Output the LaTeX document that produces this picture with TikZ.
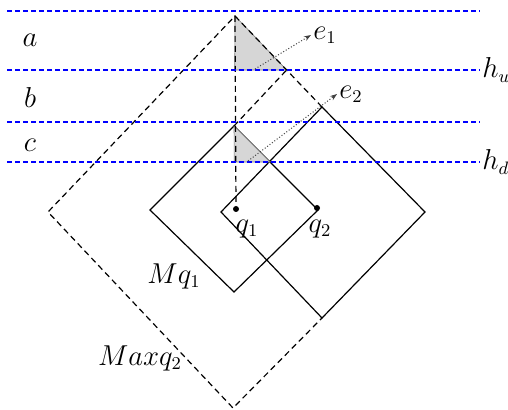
\documentclass[tikz,border=0pt]{standalone}
\usepackage{tikz}
\usetikzlibrary{arrows.meta}

\begin{document}
\begin{tikzpicture}[
  x=0.5pt, y=-0.5pt,
  bandline/.style={blue, dash pattern=on 2.5pt off 1.5pt, line width=0.6pt},
  box/.style={line width=0.6pt},
  maxbox/.style={dash pattern=on 3pt off 2pt, line width=0.6pt},
  grayarea/.style={fill=black!16, draw=gray, line width=0.3pt},
  dir/.style={densely dotted, gray!50!black, -{Stealth[length=3.5pt,width=2.5pt]}, line width=0.5pt},
  lbl/.style={font=\fontsize{13.5}{16}\selectfont, inner sep=1pt},
  qdot/.style={circle, fill, inner sep=0pt, minimum size=3pt}
]
\useasboundingbox (0,0) rectangle (508,410);

% Levels
\coordinate (l1a) at (7,11);  \coordinate (l1b) at (480,11);
\coordinate (l2a) at (7,70);  \coordinate (l2b) at (480,70);
\coordinate (l3a) at (7,122); \coordinate (l3b) at (480,122);
\coordinate (l4a) at (7,162); \coordinate (l4b) at (480,162);

% Corners
\coordinate (top) at (235,16);
\coordinate (maxL) at (48,212);
\coordinate (maxB) at (233,408);
\coordinate (q2T) at (322,107);
\coordinate (q2R) at (425,212);
\coordinate (q2B) at (322,318);
\coordinate (q2L) at (221,212);
\coordinate (m1T) at (234,126);
\coordinate (m1R) at (318,210);
\coordinate (m1B) at (234,292);
\coordinate (m1L) at (150,210);
\coordinate (hitU) at (intersection of top--q2T and l2a--l2b);
\coordinate (hitD) at (intersection of m1T--m1R and l4a--l4b);
\coordinate (footU) at (intersection of top--maxB and l2a--l2b);
\coordinate (footD) at (intersection of top--maxB and l4a--l4b);

% Shaded parts
\draw[grayarea] (top) -- (footU) -- (hitU) -- cycle;

% Squares
\draw[box] (m1T) -- (m1R) -- (m1B) -- (m1L) -- cycle;
\draw[box] (q2T) -- (q2R) -- (q2B) -- (q2L) -- cycle;
\draw[grayarea] (m1T) -- (footD) -- (hitD) -- cycle;
\draw[maxbox] (q2T) -- (top) -- (maxL) -- (maxB) -- (q2B);
\draw[maxbox] (m1T) -- (hitU);

% Points
\node[qdot] (q1) at (236,209) {};
\node[qdot] (q2) at (317,208) {};
\draw[maxbox] (top) -- (q1);

% Levels on top
\draw[bandline] (l1a) -- (l1b);
\draw[bandline] (l2a) -- (l2b);
\draw[bandline] (l3a) -- (l3b);
\draw[bandline] (l4a) -- (l4b);

% Directions
\coordinate (e1s) at (255,69);
\coordinate (e2s) at (248,161);
\node[lbl, anchor=west] (e1) at (311,35) {$e_1$};
\node[lbl, anchor=west] (e2) at (337,94) {$e_2$};
\draw[dir] (e1s) -- (e1.west);
\draw[dir] (e2s) -- (e2.west);

% Labels
\node[lbl] (la) at (30,40) {$a$};
\node[lbl] (lb) at (30,98) {$b$};
\node[lbl] (lc) at (30,145) {$c$};
\node[lbl, anchor=west, inner sep=0pt, xshift=1pt] (hu) at (l2b) {$h_u$};
\node[lbl, anchor=west, inner sep=0pt, xshift=1pt] (hd) at (l4b) {$h_d$};
\node[lbl] (q1l) at (247,229) {$q_1$};
\node[lbl] (q2l) at (320,229) {$q_2$};
\node[lbl] (mq1) at (174,276) {$Mq_1$};
\node[lbl] (maxq2) at (140,358) {$Maxq_2$};

\end{tikzpicture}
\end{document}
